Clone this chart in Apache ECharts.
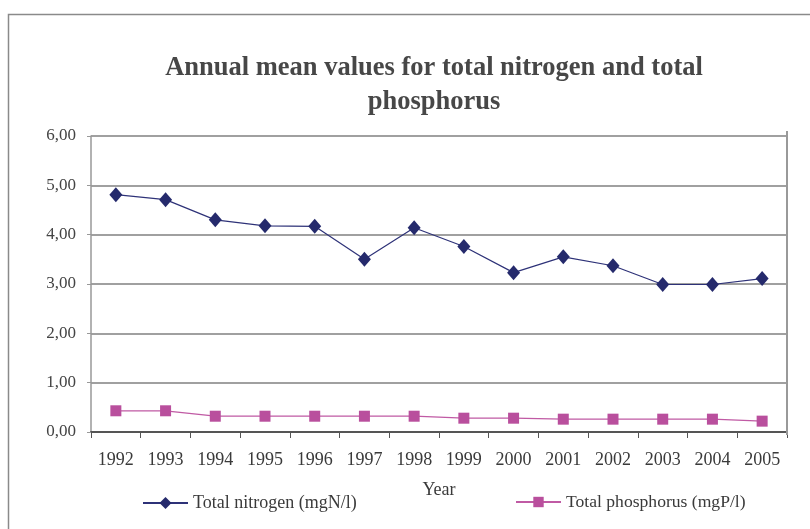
<!DOCTYPE html>
<html>
<head>
<meta charset="utf-8">
<script src="https://cdn.jsdelivr.net/npm/echarts@6/dist/echarts.min.js"></script>
<style>
  html, body { margin: 0; padding: 0; background: #fff; }
  #chart { width: 810px; height: 529px; }
</style>
</head>
<body>
<div id="chart"></div>
<script>
// Annual means, 1992-2005
const years = ['1992','1993','1994','1995','1996','1997','1998','1999','2000','2001','2002','2003','2004','2005'];
const nitrogen = [4.81, 4.71, 4.30, 4.18, 4.17, 3.50, 4.14, 3.76, 3.23, 3.55, 3.37, 2.99, 2.99, 3.11];
const phosphorus = [0.43, 0.43, 0.32, 0.32, 0.32, 0.32, 0.32, 0.28, 0.28, 0.26, 0.26, 0.26, 0.26, 0.22];
const nitrogenName = 'Total nitrogen (mgN/l)';
const phosphorusName = 'Total phosphorus (mgP/l)';

const serif = '"Liberation Serif", "DejaVu Serif", serif';
const chart = echarts.init(document.getElementById('chart'), null, { renderer: 'canvas' });

chart.setOption({
  backgroundColor: '#ffffff',
  animation: false,
  graphic: [{
    type: 'rect',
    shape: { x: 8.5, y: 14.5, width: 900, height: 600 },
    style: { fill: 'none', stroke: '#8a8a8a', lineWidth: 1.5 },
    silent: true
  }],
  title: {
    text: 'Annual mean values for total nitrogen and total\nphosphorus',
    left: 429,
    top: 46,
    textAlign: 'center',
    textStyle: {
      fontFamily: serif,
      fontWeight: 'bold',
      fontSize: 26.5,
      lineHeight: 34,
      color: '#474747'
    }
  },
  legend: [{
    data: [nitrogenName],
    left: 137,
    top: 489,
    itemWidth: 45,
    itemHeight: 15,
    itemGap: 5,
    textStyle: { fontFamily: serif, fontSize: 18, color: '#3a3a3a' }
  }, {
    data: [phosphorusName],
    left: 510,
    top: 488,
    itemWidth: 45,
    itemHeight: 13,
    itemGap: 5,
    textStyle: { fontFamily: serif, fontSize: 17.6, color: '#3a3a3a' }
  }],
  grid: { left: 91, right: 23, top: 136, bottom: 97, containLabel: false },
  xAxis: {
    type: 'category',
    data: years,
    boundaryGap: true,
    name: 'Year',
    nameLocation: 'middle',
    nameGap: 49,
    nameTextStyle: { fontFamily: serif, fontSize: 18, color: '#3a3a3a' },
    axisLine: { lineStyle: { color: '#555555', width: 2 } },
    axisTick: { show: true, alignWithLabel: false, length: 6, lineStyle: { color: '#555555' } },
    axisLabel: { fontFamily: serif, fontSize: 18, color: '#3a3a3a', margin: 19, interval: 0 },
    splitLine: { show: false }
  },
  yAxis: {
    type: 'value',
    min: 0,
    max: 6,
    interval: 1,
    axisLine: { show: true, lineStyle: { color: '#999999', width: 1.5 } },
    axisTick: { show: true, length: 4, lineStyle: { color: '#999999' } },
    axisLabel: {
      fontFamily: serif, fontSize: 17, color: '#444444', margin: 15,
      formatter: v => v.toFixed(2).replace('.', ',')
    },
    splitLine: { show: true, lineStyle: { color: '#808080', width: 1.5 } }
  },
  series: [{
    name: nitrogenName,
    type: 'line',
    data: nitrogen,
    symbol: 'diamond',
    symbolSize: [13, 15],
    lineStyle: { color: '#2e3278', width: 1.2 },
    itemStyle: { color: '#252a6c' },
    z: 3
  }, {
    name: phosphorusName,
    type: 'line',
    data: phosphorus,
    symbol: 'rect',
    symbolSize: 11,
    lineStyle: { color: '#c05aa4', width: 1.2 },
    itemStyle: { color: '#b94f9d' },
    z: 3
  }, {
    // right border of the plot area
    type: 'line',
    data: [],
    markLine: {
      silent: true,
      symbol: 'none',
      label: { show: false },
      lineStyle: { color: '#999999', width: 2, type: 'solid' },
      data: [[{ x: 787, y: 435 }, { x: 787, y: 131 }]]
    }
  }]
});
</script>
</body>
</html>
